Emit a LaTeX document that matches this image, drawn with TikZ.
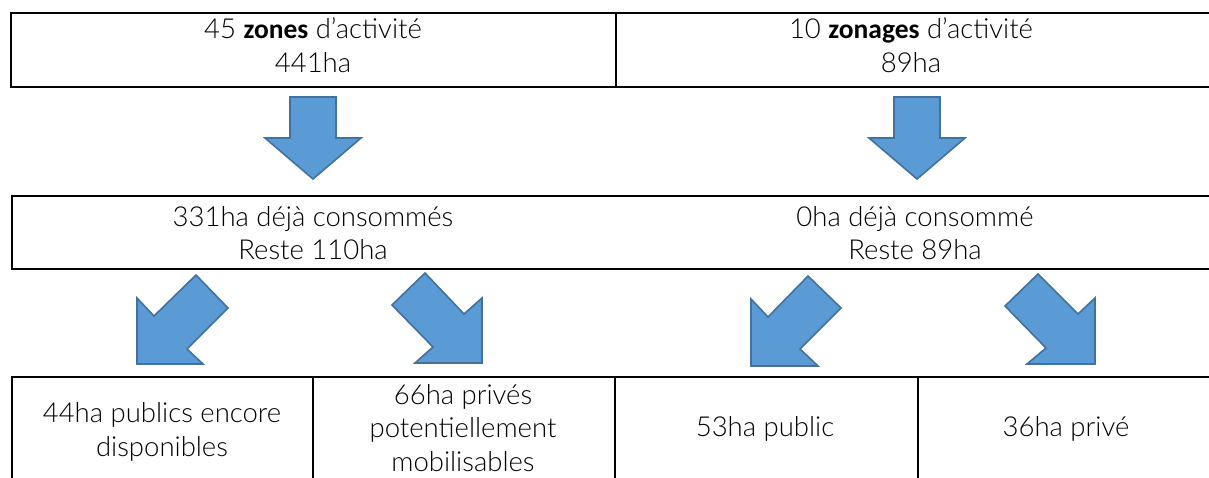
\documentclass[tikz,border=0pt]{standalone}
\usepackage{fontspec}
\setmainfont{Lato}[UprightFont={* Light}, BoldFont={Carlito Bold}]
\definecolor{arrowfill}{HTML}{5B9BD5}
\definecolor{arrowline}{HTML}{41719C}
\tikzset{
  cell/.style={draw=black, line width=2pt, inner sep=0pt, anchor=north west},
  txt/.style={align=center, inner sep=0pt, font=\fontsize{27.5}{33.5}\selectfont},
  blockarrow/.style={fill=arrowfill, draw=arrowline, line width=1.6pt, line join=miter}
}
\begin{document}
\begin{tikzpicture}[x=1pt,y=-1pt]
\useasboundingbox (0,0) rectangle (1209,477);
\begin{scope}
\clip (0,0) rectangle (1209,477);
% row 1
\node[cell, minimum width=605pt, minimum height=74pt] (z1) at (10,12) {};
\node[cell, minimum width=600pt, minimum height=74pt] (z2) at (615,12) {};
\node[txt] (t1) at (313,45) {45 \textbf{zones} d’activité\\441ha};
\node[txt] (t2) at (911,45) {10 \textbf{zonages} d’activité\\89ha};
% row 2
\node[cell, minimum width=1205pt, minimum height=73pt] (c) at (11,195) {};
\node[txt] (t3) at (313,233) {331ha déjà consommés\\Reste 110ha};
\node[txt] (t4) at (915,233) {0ha déjà consommé\\Reste 89ha};
% row 3
\node[cell, minimum width=301pt, minimum height=110pt] (d1) at (11,376) {};
\node[cell, minimum width=302pt, minimum height=110pt] (d2) at (312,376) {};
\node[cell, minimum width=303pt, minimum height=110pt] (d3) at (614,376) {};
\node[cell, minimum width=300pt, minimum height=110pt] (d4) at (917,376) {};
\node[txt] (u1) at (162,432) {44ha publics encore\\disponibles};
\node[txt] (u2) at (463,428) {66ha privés\\potentiellement\\mobilisables};
\node[txt] (u3) at (765,429) {53ha public};
\node[txt] (u4) at (1066,429) {36ha privé};
\end{scope}
% down arrows
\foreach \cx in {313,917}{
  \draw[blockarrow] (\cx-23,97) -- (\cx+23,97) -- (\cx+23,138) -- (\cx+48,138)
    -- (\cx,179) -- (\cx-48,138) -- (\cx-23,138) -- cycle;
}
% diagonal arrows (down-left)
\draw[blockarrow] (196,275) -- (228,308) -- (187,349) -- (203,364) -- (137,364)
  -- (137,298) -- (154,316) -- cycle;
\draw[blockarrow] (808,276) -- (841,308) -- (800,349) -- (818,366) -- (751,366)
  -- (751,299) -- (768,317) -- cycle;
% diagonal arrows (down-right)
\draw[blockarrow] (425,273) -- (464,314) -- (482,298) -- (482,363) -- (415,363)
  -- (433,347) -- (392,305) -- cycle;
\draw[blockarrow] (1038,274) -- (1078,314) -- (1095,298) -- (1095,364) -- (1027,364)
  -- (1046,348) -- (1005,306) -- cycle;
\end{tikzpicture}
\end{document}
